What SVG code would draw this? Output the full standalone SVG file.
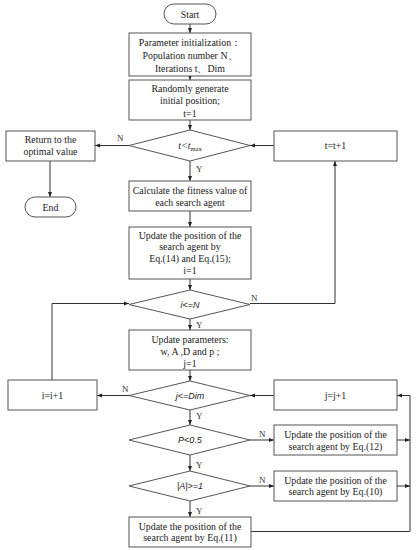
<svg xmlns="http://www.w3.org/2000/svg" width="418" height="550" viewBox="0 0 418 550">
<defs>
<marker id="ah" viewBox="0 0 10 10" refX="10" refY="5" markerWidth="5" markerHeight="5" orient="auto" markerUnits="userSpaceOnUse">
<path d="M0,1 L10,5 L0,9 z" fill="#222"/>
</marker>
<style>
.b{fill:#fff;stroke:#555;stroke-width:1}
.t{font-family:"Liberation Serif","Times New Roman",serif;font-size:9.9px;fill:#222;text-anchor:middle}
.d{font-family:"Liberation Sans",Arial,sans-serif;font-style:italic;font-size:9px;fill:#222;text-anchor:middle}
.l{font-family:"Liberation Serif","Times New Roman",serif;font-size:9px;fill:#333}
.c{fill:none;stroke:#333;stroke-width:1}
</style>
</defs>
<rect width="418" height="550" fill="#fff"/>
<g id="connectors">
<line class="c" x1="190" y1="24" x2="190" y2="33" marker-end="url(#ah)"/>
<line class="c" x1="190" y1="76" x2="190" y2="80" marker-end="url(#ah)"/>
<line class="c" x1="190" y1="120" x2="190" y2="130" marker-end="url(#ah)"/>
<line class="c" x1="129" y1="145.5" x2="95" y2="145.5" marker-end="url(#ah)"/>
<line class="c" x1="50" y1="161" x2="50" y2="197" marker-end="url(#ah)"/>
<line class="c" x1="274" y1="145.5" x2="250" y2="145.5" marker-end="url(#ah)"/>
<line class="c" x1="190" y1="161" x2="190" y2="181" marker-end="url(#ah)"/>
<line class="c" x1="190" y1="211" x2="190" y2="227" marker-end="url(#ah)"/>
<line class="c" x1="190" y1="279" x2="190" y2="290" marker-end="url(#ah)"/>
<polyline class="c" points="250,303.5 335,303.5 335,161" marker-end="url(#ah)"/>
<polyline class="c" points="52,380 52,303.5 129,303.5" marker-end="url(#ah)"/>
<line class="c" x1="190" y1="319" x2="190" y2="330" marker-end="url(#ah)"/>
<line class="c" x1="190" y1="370" x2="190" y2="381" marker-end="url(#ah)"/>
<line class="c" x1="129" y1="395.5" x2="97" y2="395.5" marker-end="url(#ah)"/>
<line class="c" x1="274" y1="395.5" x2="250" y2="395.5" marker-end="url(#ah)"/>
<line class="c" x1="190" y1="410" x2="190" y2="425" marker-end="url(#ah)"/>
<line class="c" x1="250" y1="440" x2="274" y2="440" marker-end="url(#ah)"/>
<line class="c" x1="190" y1="455" x2="190" y2="471" marker-end="url(#ah)"/>
<line class="c" x1="250" y1="486" x2="274" y2="486" marker-end="url(#ah)"/>
<line class="c" x1="190" y1="501" x2="190" y2="517" marker-end="url(#ah)"/>
<line class="c" x1="397" y1="440" x2="410" y2="440" marker-end="url(#ah)"/>
<line class="c" x1="397" y1="486" x2="410" y2="486" marker-end="url(#ah)"/>
<polyline class="c" points="251,531.5 410,531.5 410,395.5 397,395.5" marker-end="url(#ah)"/>
</g>
<g id="labels">
<text class="l" x="117" y="141">N</text>
<text class="l" x="196" y="172">Y</text>
<text class="l" x="251" y="301">N</text>
<text class="l" x="196" y="328">Y</text>
<text class="l" x="122" y="392">N</text>
<text class="l" x="196" y="419">Y</text>
<text class="l" x="259" y="437">N</text>
<text class="l" x="196" y="468">Y</text>
<text class="l" x="259" y="483">N</text>
<text class="l" x="196" y="514">Y</text>
</g>
<g id="start">
<rect class="b" x="164" y="4" width="52" height="20" rx="10"/>
<text class="t" x="190" y="17.5">Start</text>
</g>
<g id="init">
<rect class="b" x="129" y="33" width="122" height="43"/>
<text class="t" x="190" y="45.5">Parameter initialization：</text>
<text class="t" x="190" y="58.5">Population number N、</text>
<text class="t" x="190" y="71.5">Iterations t、Dim</text>
</g>
<g id="random">
<rect class="b" x="129" y="80" width="122" height="40"/>
<text class="t" x="190" y="91.5">Randomly generate</text>
<text class="t" x="190" y="104">initial position;</text>
<text class="t" x="190" y="116.5">t=1</text>
</g>
<g id="cond-t">
<polygon class="b" points="190,130 250,145.5 190,161 129,145.5"/>
<text class="t" x="190" y="149" style="font-style:italic">t&lt;t<tspan font-size="6.5" font-style="normal" dy="2">max</tspan></text>
</g>
<g id="return">
<rect class="b" x="6" y="131" width="89" height="30"/>
<text class="t" x="50.5" y="142.5">Return to the</text>
<text class="t" x="50.5" y="155">optimal value</text>
</g>
<g id="end">
<rect class="b" x="25" y="197" width="51" height="20" rx="10"/>
<text class="t" x="50.5" y="210.5">End</text>
</g>
<g id="tinc">
<rect class="b" x="274" y="131" width="123" height="30"/>
<text class="t" x="335.5" y="149">t=t+1</text>
</g>
<g id="fitness">
<rect class="b" x="129" y="181" width="122" height="30"/>
<text class="t" x="190" y="194">Calculate the fitness value of</text>
<text class="t" x="190" y="205.5">each search agent</text>
</g>
<g id="update1">
<rect class="b" x="129" y="227" width="122" height="52"/>
<text class="t" x="190" y="238.5">Update the position of the</text>
<text class="t" x="190" y="250">search agent by</text>
<text class="t" x="190" y="262">Eq.(14) and Eq.(15);</text>
<text class="t" x="190" y="274">i=1</text>
</g>
<g id="cond-i">
<polygon class="b" points="190,290 250,304.5 190,319 129,304.5"/>
<text class="d" x="190" y="307.5">i&lt;=N</text>
</g>
<g id="params">
<rect class="b" x="129" y="330" width="122" height="40"/>
<text class="t" x="190" y="342.5">Update parameters:</text>
<text class="t" x="190" y="354.5">w, A ,D and p ;</text>
<text class="t" x="190" y="366.5">j=1</text>
</g>
<g id="iinc">
<rect class="b" x="8" y="380" width="89" height="30"/>
<text class="t" x="52.5" y="398.5">i=i+1</text>
</g>
<g id="cond-j">
<polygon class="b" points="190,381 250,395.5 190,410 129,395.5"/>
<text class="d" x="190" y="398.5">j&lt;=Dim</text>
</g>
<g id="jinc">
<rect class="b" x="274" y="380" width="123" height="30"/>
<text class="t" x="335.5" y="398.5">j=j+1</text>
</g>
<g id="cond-p">
<polygon class="b" points="190,425 250,440 190,455 129,440"/>
<text class="d" x="190" y="443">P&lt;0.5</text>
</g>
<g id="eq12">
<rect class="b" x="274" y="425" width="123" height="30"/>
<text class="t" x="335.5" y="438">Update the position of the</text>
<text class="t" x="335.5" y="449.5">search agent by Eq.(12)</text>
</g>
<g id="cond-a">
<polygon class="b" points="190,471 250,486 190,501 129,486"/>
<text class="d" x="190" y="489">|A|&gt;=1</text>
</g>
<g id="eq10">
<rect class="b" x="274" y="471" width="123" height="30"/>
<text class="t" x="335.5" y="483.5">Update the position of the</text>
<text class="t" x="335.5" y="495">search agent by Eq.(10)</text>
</g>
<g id="eq11">
<rect class="b" x="129" y="517" width="122" height="30"/>
<text class="t" x="190" y="529.5">Update the position of the</text>
<text class="t" x="190" y="541">search agent by Eq.(11)</text>
</g>
</svg>
